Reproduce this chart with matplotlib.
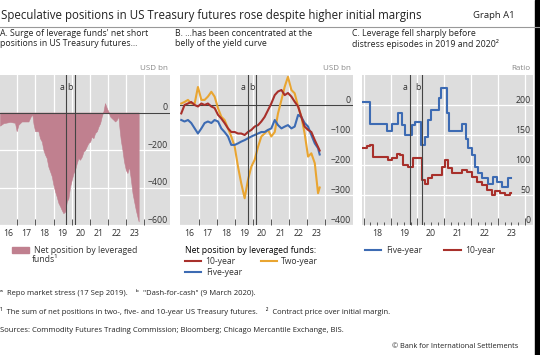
import matplotlib.pyplot as plt
from matplotlib.patches import Patch, Rectangle
from matplotlib.lines import Line2D
from matplotlib.transforms import blended_transform_factory

plt.rcParams['font.family'] = ['Open Sans', 'DejaVu Sans']

W, H = 540, 355
GRAY = '#dddddd'
RED = '#a8302b'
ORANGE = '#e9a531'
BLUE = '#3d6bb3'
ROSE = '#c0808f'
TXT = '#333333'

# Panel A: net position by leveraged funds, USD bn
a_years = [2016.04, 2016.23, 2016.60, 2016.87, 2016.96, 2017.06, 2017.24, 2017.61,
           2017.74, 2017.83, 2017.89, 2017.98, 2018.16, 2018.25, 2018.35, 2018.44,
           2018.53, 2018.62, 2018.71, 2018.81, 2018.90, 2018.99, 2019.08, 2019.17,
           2019.27, 2019.36, 2019.45, 2019.54, 2019.64, 2019.73, 2019.82, 2019.91,
           2020.00, 2020.10, 2020.19, 2020.28, 2020.37, 2020.46, 2020.56, 2020.65,
           2020.74, 2020.83, 2020.92, 2021.02, 2021.11, 2021.20, 2021.29, 2021.39,
           2021.48, 2021.57, 2021.66, 2021.75, 2021.84, 2021.94, 2022.03, 2022.12,
           2022.21, 2022.31, 2022.40, 2022.49, 2022.58, 2022.64, 2022.71, 2022.80,
           2022.89, 2022.99, 2023.08, 2023.17, 2023.26, 2023.36, 2023.45, 2023.54,
           2023.63, 2023.70]
a_net = [-70, -57, -50, -55, -100, -65, -48, -48,
         -21, -12, -60, -100, -100, -137, -155, -200,
         -225, -243, -288, -315, -340, -385, -420, -448,
         -483, -500, -520, -537, -528, -475, -457, -395,
         -360, -323, -305, -270, -243, -252, -235, -208,
         -200, -181, -163, -155, -128, -137, -110, -100,
         -75, -57, -21, 5, 50, 23, 5, -21,
         -30, -39, -48, -39, -20, -84, -146, -199,
         -261, -306, -323, -288, -350, -430, -475, -519,
         -555, -581]

# Panel B: net positions by tenor, USD bn
b_years = [2016.04, 2016.22, 2016.41, 2016.59, 2016.78, 2016.96, 2017.15, 2017.33,
           2017.51, 2017.70, 2017.88, 2018.07, 2018.25, 2018.43, 2018.62, 2018.80,
           2018.99, 2019.17, 2019.35, 2019.54, 2019.72, 2019.91, 2020.09, 2020.28,
           2020.46, 2020.64, 2020.83, 2021.01, 2021.20, 2021.38, 2021.57, 2021.75,
           2021.93, 2022.12, 2022.30, 2022.49, 2022.67, 2022.85, 2023.04, 2023.22,
           2023.41, 2023.59, 2023.68]
b_ten = [-28, 0, 5, 10, 0, -5, 5, 0,
         5, -5, -10, -33, -45, -60, -78, -90,
         -90, -95, -95, -100, -90, -83, -72, -67,
         -55, -40, -17, 5, 33, 45, 50, 33,
         40, 28, 11, -5, -40, -72, -83, -90,
         -117, -140, -152]
b_two = [5, 10, 17, 5, 5, 60, 17, 17,
         28, 44, 28, -11, -39, -50, -78, -105,
         -139, -205, -261, -311, -250, -205, -183, -139,
         -105, -95, -83, -105, -90, -28, 17, 61,
         94, 50, 39, -5, -39, -95, -172, -161,
         -194, -294, -275]
b_five = [-50, -55, -50, -60, -78, -95, -78, -60,
          -55, -60, -50, -55, -78, -90, -105, -133,
          -133, -128, -122, -117, -111, -105, -100, -95,
          -90, -90, -83, -78, -50, -67, -78, -72,
          -67, -78, -72, -33, -40, -60, -72, -100,
          -128, -144, -165]

# Panel C: contract price over initial margin (ratio), step series
c_five_years = [2017.87, 2018.24, 2018.86, 2019.04, 2019.29, 2019.41, 2019.54, 2019.79,
                2019.91, 2020.13, 2020.28, 2020.41, 2020.50, 2020.80, 2020.88, 2021.11,
                2021.19, 2021.65, 2021.81, 2021.89, 2022.02, 2022.14, 2022.27, 2022.39,
                2022.64, 2022.82, 2022.97, 2023.13, 2023.38, 2023.47]
c_five = [205, 168, 156, 169, 186, 167, 150, 167,
          172, 133, 147, 175, 192, 211, 228, 186,
          156, 169, 144, 128, 117, 97, 86, 78,
          69, 80, 72, 64, 78, 78]
c_ten_years = [2017.87, 2018.11, 2018.24, 2018.36, 2018.49, 2018.92, 2019.04, 2019.23,
               2019.35, 2019.48, 2019.66, 2019.85, 2020.16, 2020.28, 2020.41, 2020.53,
               2020.90, 2021.03, 2021.15, 2021.27, 2021.65, 2021.83, 2022.02, 2022.20,
               2022.39, 2022.58, 2022.76, 2022.89, 2023.07, 2023.26, 2023.44, 2023.50]
c_ten = [128, 131, 133, 114, 113, 108, 111, 119,
         117, 100, 97, 111, 75, 69, 78, 83,
         97, 108, 95, 86, 92, 89, 80, 72,
         67, 58, 50, 56, 53, 50, 53, 53]

events = [2019.71, 2020.19]
event_names = ['a', 'b']


def px_axes(fig, x0, y0, x1, y1):
    return fig.add_axes([x0 / W, 1 - y1 / H, (x1 - x0) / W, (y1 - y0) / H])


def style(ax, xlim, ylim, yticks, ylabels, unit, label_years, quarters=False):
    ax.set_facecolor(GRAY)
    ax.set_xlim(*xlim)
    ax.set_ylim(*ylim)
    for s in ax.spines.values():
        s.set_visible(False)
    for v in yticks:
        ax.axhline(v, color='white', lw=0.9, zorder=0)
    bounds = [y + 1 for y in label_years]
    if quarters:
        bounds = [label_years[0]] + bounds
    for y in bounds:
        ax.axvline(y, color='white', lw=0.9, zorder=0)
    ax.set_xticks(bounds)
    ax.tick_params(axis='x', which='major', direction='in', length=5 if quarters else 4,
                   width=0.7, color='#555555', labelbottom=False)
    if quarters:
        mins = [y + q for y in label_years for q in (0.25, 0.5, 0.75)]
        labs = ['%02d' % (int(m) % 100) if abs(m % 1 - 0.5) < 1e-6 else '' for m in mins]
        ax.set_xticks(mins, labs, minor=True)
        ax.tick_params(axis='x', which='minor', direction='in', length=2.5, width=0.7,
                       color='#555555', labelsize=6.3, pad=3, labelcolor=TXT)
    else:
        mids = [y + 0.5 for y in label_years]
        ax.set_xticks(mids, ['%02d' % (y % 100) for y in label_years], minor=True)
        ax.tick_params(axis='x', which='minor', length=0, labelsize=6.3, pad=3,
                       labelcolor=TXT)
    ax.set_yticks([])
    trans = blended_transform_factory(ax.transAxes, ax.transData)
    for v, lab in zip(yticks, ylabels):
        ax.annotate(lab, (0.985, v), xycoords=trans, xytext=(0, 1.5),
                    textcoords='offset points', ha='right', va='baseline',
                    fontsize=6.3, color=TXT)
    ax.annotate(unit, (0.985, 1), xycoords='axes fraction', xytext=(0, 2),
                textcoords='offset points', ha='right', va='bottom',
                fontsize=5.8, color='#888888')
    for x, name in zip(events, event_names):
        ax.axvline(x, color='#444444', lw=0.8, zorder=4)
        ax.annotate(name, (x, 1), xycoords=('data', 'axes fraction'), xytext=(-1.5, -9),
                    textcoords='offset points', ha='right', va='center',
                    fontsize=6.3, color=TXT)


fig = plt.figure(figsize=(W / 100, H / 100), dpi=100)

# Title and headers
fig.text(1 / W, 1 - 15 / H, 'Speculative positions in US Treasury futures rose despite higher initial margins',
         fontsize=8.3, color='#222222', va='center')
fig.text(515 / W, 1 - 15 / H, 'Graph A1', fontsize=6.8, color='#222222', va='center', ha='right')
fig.add_artist(Line2D([0, 1], [1 - 27 / H, 1 - 27 / H], color='#999999', lw=0.8))
sub_kw = dict(fontsize=6.3, color='#222222', va='top', linespacing=1.15)
fig.text(0, 1 - 29 / H, "A. Surge of leverage funds' net short\npositions in US Treasury futures...", **sub_kw)
fig.text(175 / W, 1 - 29 / H, 'B. ...has been concentrated at the\nbelly of the yield curve', **sub_kw)
fig.text(352 / W, 1 - 29 / H, 'C. Leverage fell sharply before\ndistress episodes in 2019 and 2020²', **sub_kw)

year_labels_ab = list(range(2016, 2024))
year_labels_c = list(range(2018, 2024))

# Panel A
axA = px_axes(fig, 0, 75, 170, 225)
style(axA, (2016.04, 2025.43), (-600, 200), [0, -200, -400, -600],
      ['0', '−200', '−400', '−600'], 'USD bn', year_labels_ab)
axA.fill_between(a_years, a_net, 0, color=ROSE, lw=0.4, zorder=2)
axA.axhline(0, color='#444444', lw=0.8, zorder=3)

# Panel B
axB = px_axes(fig, 180, 75, 353, 225)
style(axB, (2015.97, 2025.52), (-400, 100), [0, -100, -200, -300, -400],
      ['0', '−100', '−200', '−300', '−400'], 'USD bn', year_labels_ab)
axB.axhline(0, color='#444444', lw=0.8, zorder=1)
l2, = axB.plot(b_years, b_two, color=ORANGE, lw=1.5, zorder=2)
l5, = axB.plot(b_years, b_five, color=BLUE, lw=1.5, zorder=2)
l10, = axB.plot(b_years, b_ten, color=RED, lw=1.5, zorder=3)

# Panel C
axC = px_axes(fig, 362, 75, 533, 225)
style(axC, (2017.94, 2024.30), (0, 250), [0, 50, 100, 150, 200],
      ['0', '50', '100', '150', '200'], 'Ratio', year_labels_c, quarters=True)
c5, = axC.step(c_five_years, c_five, where='post', color=BLUE, lw=1.5, zorder=2)
c10, = axC.step(c_ten_years, c_ten, where='post', color=RED, lw=1.5, zorder=2)

# Legends
leg_kw = dict(frameon=False, fontsize=6.2, borderpad=0, borderaxespad=0,
              handletextpad=0.5, labelcolor=TXT)
fig.legend(handles=[Patch(color=ROSE)], labels=['Net position by leveraged'],
           loc='upper left', bbox_to_anchor=(12 / W, 1 - 246 / H),
           handlelength=2.0, handleheight=0.8, **leg_kw)
fig.text(32 / W, 1 - 260 / H, 'funds¹', fontsize=6.2, color=TXT, va='center')
fig.legend(handles=[l10, l5, l2], labels=['10-year', 'Five-year', 'Two-year'],
           title='Net position by leveraged funds:', title_fontsize=6.2, alignment='left',
           ncol=2, loc='upper left', bbox_to_anchor=(185 / W, 1 - 246 / H),
           handlelength=1.9, columnspacing=2.2, labelspacing=0.25, **leg_kw)
fig.legend(handles=[c5, c10], labels=['Five-year', '10-year'], ncol=2,
           loc='upper left', bbox_to_anchor=(365 / W, 1 - 246 / H),
           handlelength=1.9, columnspacing=2.6, **leg_kw)

# Footnotes
foot_kw = dict(fontsize=5.5, color='#222222', va='center')
fig.text(0, 1 - 293 / H, 'ᵃ  Repo market stress (17 Sep 2019).    ᵇ  "Dash-for-cash" (9 March 2020).', **foot_kw)
fig.text(0, 1 - 312 / H, '¹  The sum of net positions in two-, five- and 10-year US Treasury futures.    ²  Contract price over initial margin.', **foot_kw)
fig.text(0, 1 - 331 / H, 'Sources: Commodity Futures Trading Commission; Bloomberg; Chicago Mercantile Exchange, BIS.', **foot_kw)
fig.text(518 / W, 1 - 347 / H, '© Bank for International Settlements', fontsize=5.3, color='#222222',
         va='center', ha='right')

fig.add_artist(Rectangle((535 / W, 0), 5 / W, 1, color='black', transform=fig.transFigure))

fig.savefig('out.png', dpi=100)
